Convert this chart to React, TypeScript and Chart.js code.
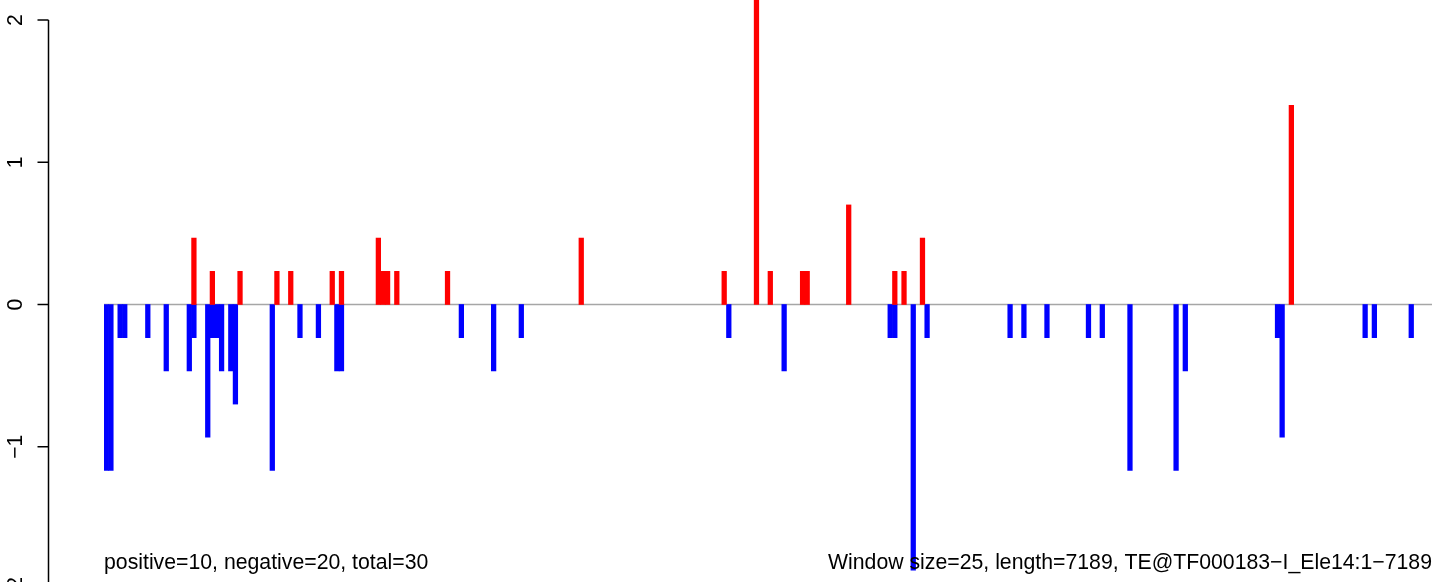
import React, { useEffect, useRef } from "react";
import { Chart, registerables } from "chart.js";

Chart.register(...registerables);

// ---- data ----
const WINDOW_COUNT = 288; // 7189 / 25 windows

const posWindows = [19, 23, 29, 37, 40, 49, 51, 59, 60, 61, 63, 74, 103, 134, 141, 144, 151, 152, 161, 171, 173, 177, 257];
const posValues = [0.467, 0.233, 0.233, 0.233, 0.233, 0.233, 0.233, 0.467, 0.233, 0.233, 0.233, 0.233, 0.467, 0.233, 2.333, 0.233, 0.233, 0.233, 0.7, 0.233, 0.233, 0.467, 1.4];

const negWindows = [0, 1, 3, 4, 9, 13, 18, 19, 22, 23, 24, 25, 27, 28, 36, 42, 46, 50, 51, 77, 84, 90, 135, 147, 170, 171, 175, 178, 196, 199, 204, 213, 216, 222, 232, 234, 254, 255, 273, 275, 283];
const negValues = [-1.167, -1.167, -0.233, -0.233, -0.233, -0.467, -0.467, -0.233, -0.933, -0.233, -0.233, -0.467, -0.467, -0.7, -1.167, -0.233, -0.233, -0.467, -0.467, -0.233, -0.467, -0.233, -0.233, -0.467, -0.233, -0.233, -1.867, -0.233, -0.233, -0.233, -0.233, -0.233, -0.233, -1.167, -1.167, -0.467, -0.233, -0.933, -0.233, -0.233, -0.233];

const yTickValues = [2, 1, 0, -1, -2];
const yTickLabels = ["2", "1", "0", "\u22121", "\u22122"];

const leftNote = "positive=10, negative=20, total=30";
const rightNote = "Window size=25, length=7189, TE@TF000183\u2212I_Ele14:1\u22127189";

// ---- derived tables ----
const categories = Array.from({ length: WINDOW_COUNT }, (_, i) => String(i + 1));
function toSeries(idx: number[], vals: number[]): (number | null)[] {
  const out: (number | null)[] = new Array(WINDOW_COUNT).fill(null);
  idx.forEach((w, k) => {
    out[w] = vals[k];
  });
  return out;
}
const posSeries = toSeries(posWindows, posValues);
const negSeries = toSeries(negWindows, negValues);

const FONT = '"Liberation Sans", Arial, Helvetica, sans-serif';
const AXIS_X = 48.5;

const decorPlugin = {
  id: "decor",
  beforeDatasetsDraw(chart: any) {
    const ctx = chart.ctx;
    const y = chart.scales.y;
    const area = chart.chartArea;
    const y0 = y.getPixelForValue(0);
    ctx.save();
    ctx.strokeStyle = "#a6a6a6";
    ctx.lineWidth = 1.7;
    ctx.beginPath();
    ctx.moveTo(area.left, y0);
    ctx.lineTo(area.right, y0);
    ctx.stroke();
    ctx.restore();
  },
  afterDraw(chart: any) {
    const ctx = chart.ctx;
    const y = chart.scales.y;
    const area = chart.chartArea;
    ctx.save();
    // y axis line
    ctx.strokeStyle = "#000";
    ctx.lineWidth = 1.5;
    const yTop = y.getPixelForValue(yTickValues[0]);
    const yBot = y.getPixelForValue(yTickValues[yTickValues.length - 1]);
    ctx.beginPath();
    ctx.moveTo(AXIS_X, yTop);
    ctx.lineTo(AXIS_X, yBot);
    ctx.stroke();
    // ticks + labels
    ctx.fillStyle = "#000";
    ctx.font = `21.25px ${FONT}`;
    ctx.textAlign = "center";
    ctx.textBaseline = "alphabetic";
    yTickValues.forEach((v, i) => {
      const py = y.getPixelForValue(v);
      ctx.beginPath();
      ctx.moveTo(AXIS_X - 11, py);
      ctx.lineTo(AXIS_X, py);
      ctx.stroke();
      ctx.save();
      ctx.translate(22, py);
      ctx.rotate(-Math.PI / 2);
      ctx.fillText(yTickLabels[i], 0, 0);
      ctx.restore();
    });
    // notes
    ctx.textAlign = "left";
    ctx.fillText(leftNote, area.left, 569);
    ctx.textAlign = "right";
    ctx.fillText(rightNote, area.right, 569);
    ctx.restore();
  },
};

export default function App() {
  const canvasRef = useRef<HTMLCanvasElement | null>(null);

  useEffect(() => {
    const canvas = canvasRef.current;
    if (!canvas) return;
    const chart = new Chart(canvas, {
      type: "bar",
      data: {
        labels: categories,
        datasets: [
          {
            label: "positive",
            data: posSeries,
            backgroundColor: "#ff0000",
            borderWidth: 0,
            barPercentage: 1,
            categoryPercentage: 1,
          },
          {
            label: "negative",
            data: negSeries,
            backgroundColor: "#0000ff",
            borderWidth: 0,
            barPercentage: 1,
            categoryPercentage: 1,
          },
        ],
      },
      options: {
        responsive: false,
        animation: false,
        events: [],
        layout: { padding: { left: 104, right: 9, top: 0, bottom: 0 } },
        plugins: {
          legend: { display: false },
          tooltip: { enabled: false },
          title: { display: false },
        },
        scales: {
          x: {
            display: false,
            stacked: true,
            offset: true,
            grid: { display: false },
          },
          y: {
            display: false,
            stacked: true,
            min: -1.9508,
            max: 2.1406,
            grid: { display: false },
          },
        },
      },
      plugins: [decorPlugin],
    });
    return () => chart.destroy();
  }, []);

  return (
    <div style={{ position: "absolute", left: 0, top: 0, width: 1441, height: 582, background: "#fff" }}>
      <canvas ref={canvasRef} width={1441} height={582} style={{ display: "block", width: 1441, height: 582 }} />
    </div>
  );
}
